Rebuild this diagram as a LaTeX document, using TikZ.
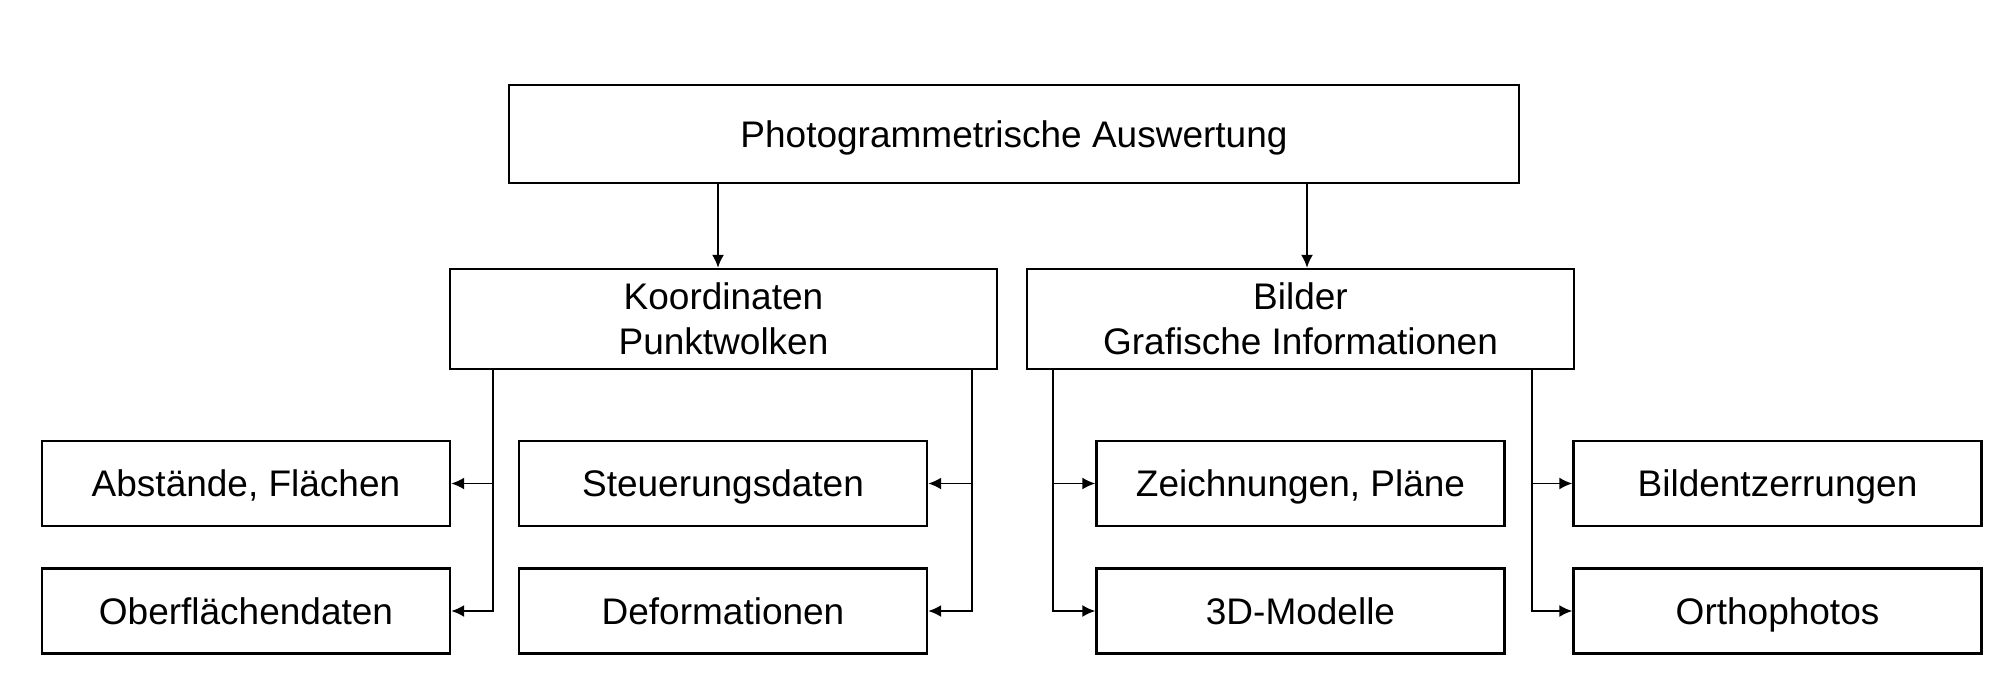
\documentclass[tikz,border=0pt]{standalone}
\usepackage{fontspec}
\setmainfont{Liberation Sans}
\usepackage{tikz}
\usetikzlibrary{arrows.meta}

\tikzset{
	box/.style={draw, line width=1.2pt, align=center, inner sep=0pt},
	wide/.style={box, minimum width=505pt, minimum height=49pt, text height=15pt, text depth=2pt},
	mid/.style={box, minimum width=273.5pt, minimum height=50pt},
	leaf/.style={box, minimum width=204pt, minimum height=42.5pt, text height=15pt, text depth=2pt},
}

\begin{document}
\begin{tikzpicture}[>={Latex[length=6.5pt,width=6pt]}, x=0.5pt, y=-0.5pt, line width=0.9pt, font=\fontsize{18.5}{22.5}\selectfont]
		\useasboundingbox (0,0) rectangle (2011,685);
		% top level
		\node[wide] (top) at (1014,134) {Photogrammetrische Auswertung};
		% second level
		\node[mid] (koord) at (723.5,319) {Koordinaten\\Punktwolken};
		\node[mid] (bilder) at (1300.5,319) {Bilder\\Grafische Informationen};
		\draw[->] ([xshift=-2.75pt]top.south -| koord.north) -- ([xshift=-2.75pt]koord.north);
		\draw[->] ([xshift=3.25pt]top.south -| bilder.north) -- ([xshift=3.25pt]bilder.north);
		% results from coordinates
		\begin{scope}
			\node[leaf] (abst) at (246,483.5) {Abstände, Flächen};
			\node[leaf] (ober) at (246,611) {Oberflächendaten};
			\node[leaf] (steuer) at (723,483.5) {Steuerungsdaten};
			\node[leaf] (deform) at (723,611) {Deformationen};
			\draw[->] (koord.south west) ++(44,0) |- (abst.east);
			\draw[->] (koord.south west) ++(44,0) |- (ober.east);
			\draw[->] (koord.south east) ++(-26,0) |- (steuer.east);
			\draw[->] (koord.south east) ++(-26,0) |- (deform.east);
		\end{scope}
		% results from images
		\begin{scope}
			\node[leaf] (zeich) at (1300.5,483.5) {Zeichnungen, Pläne};
			\node[leaf] (modell) at (1300.5,611) {3D-Modelle};
			\node[leaf] (entzerr) at (1777.5,483.5) {Bildentzerrungen};
			\node[leaf] (ortho) at (1777.5,611) {Orthophotos};
			\draw[->] (bilder.south west) ++(27,0) |- (zeich.west);
			\draw[->] (bilder.south west) ++(27,0) |- (modell.west);
			\draw[->] (bilder.south east) ++(-43,0) |- (entzerr.west);
			\draw[->] (bilder.south east) ++(-43,0) |- (ortho.west);
		\end{scope}
	\end{tikzpicture}
\end{document}
